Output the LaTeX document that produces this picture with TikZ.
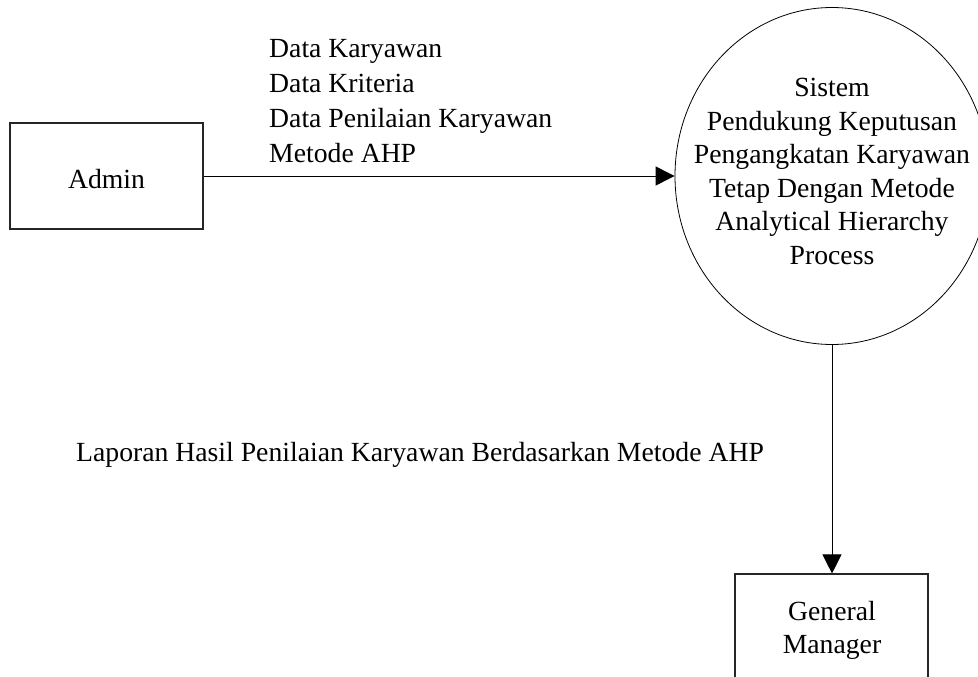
\documentclass[tikz,border=0pt]{standalone}
\usepackage{fontspec}
\setmainfont{Liberation Serif}
\usetikzlibrary{arrows.meta,shapes.geometric}

\tikzset{
  entity/.style={draw=black!85, line width=1.1pt, rectangle, minimum width=193pt,
                 minimum height=106pt, inner sep=0pt},
  process/.style={draw=black, line width=0.8pt, ellipse, minimum width=314pt,
                  minimum height=337pt, inner sep=0pt},
  txt/.style={inner sep=0pt, font=\fontsize{27.7}{33.5}\selectfont},
  flow/.style={draw=black, line width=0.9pt, -{Triangle[length=19pt,width=19pt]}}
}

\begin{document}
\begin{tikzpicture}[x=1pt, y=-1pt]
  \useasboundingbox (0,0) rectangle (978,677);
  \clip (0,0) rectangle (978,677);
  \fill[white] (0,0) rectangle (978,677);

  % external entities and the main process
  \node[entity]  (admin) at (106.5,176) {};
  \node[process] (proc)  at (832,176)   {};
  \node[entity]  (gm)    at (831.5,627) {};

  % texts
  \node[txt, anchor=base] (admintxt) at (106.5,188) {Admin};
  \node[txt, anchor=north, align=center] (proctxt) at (832,78)
    {Sistem\\Pendukung Keputusan\\Pengangkatan Karyawan\\Tetap Dengan Metode\\Analytical Hierarchy\\Process};
  \node[txt, anchor=north, align=center] (gmtxt) at (832,601) {General\\Manager};

  % data flows
  \draw[flow] (admin.east) -- (proc.west);
  \draw[flow] (proc.south) -- (proc.south |- gm.north);

  % flow labels
  \node[txt, font=\fontsize{27.7}{35}\selectfont, anchor=north west, align=left] (inlbl) at (269,39.5)
    {Data Karyawan\\Data Kriteria\\Data Penilaian Karyawan\\Metode AHP};
  \node[txt, anchor=base west] (outlbl) at (76,461)
    {Laporan Hasil Penilaian Karyawan Berdasarkan Metode AHP};
\end{tikzpicture}
\end{document}
